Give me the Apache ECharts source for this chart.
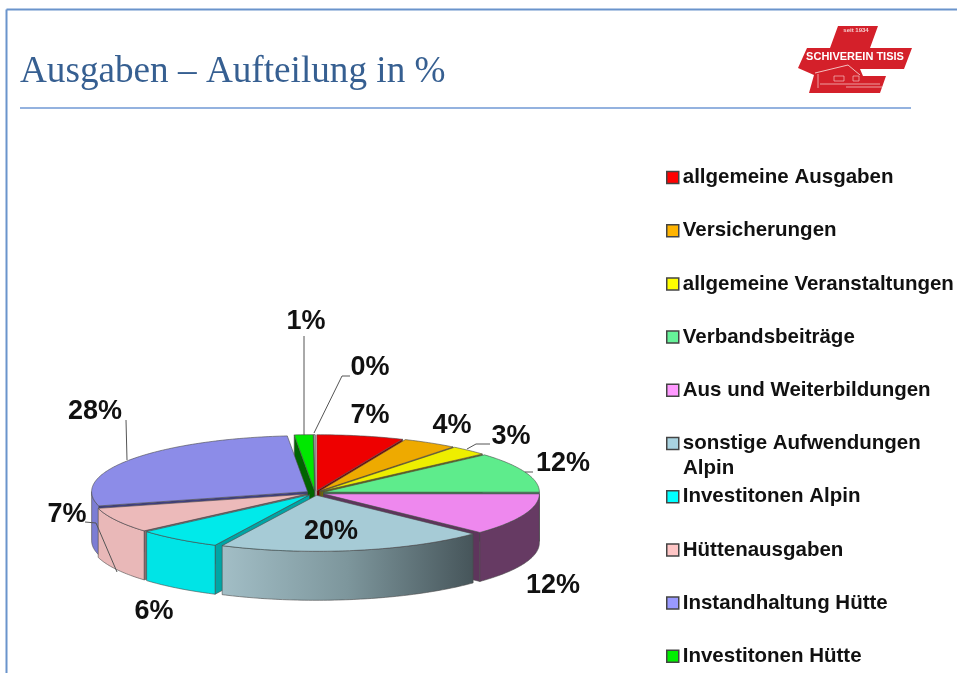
<!DOCTYPE html>
<html>
<head>
<meta charset="utf-8">
<style>html,body{margin:0;padding:0;background:#fff}#c{width:957px;height:673px}</style>
<script src="https://cdn.jsdelivr.net/npm/echarts@6/dist/echarts.min.js"></script>
</head>
<body>
<div id="c"></div>
<script>
// ---------- data ----------
const categories = ['allgemeine Ausgaben','Versicherungen','allgemeine Veranstaltungen','Verbandsbeiträge','Aus und Weiterbildungen','sonstige Aufwendungen Alpin','Investitonen Alpin','Hüttenausgaben','Instandhaltung Hütte','Investitonen Hütte','Sonstiges'];
const shares = [6.5,4.1,2.8,11.6,12.1,20.1,6.4,7.3,27.6,1.4,0.1];
const legendColors = ['#ff0000','#ffb400','#ffff00','#66f299','#ff99ff','#a9d3e0','#00ffff','#ffc6c6','#9999ff','#00ee00','#cccccc'];
const topColors = ['#ee0000','#eeaa00','#eeee00','#5eec8c','#ee88ee','#a6cbd6','#00eaea','#ecbaba','#8c8ce8','#00e800','#cccccc'];
const outerColors = ['#800000','#806000','#808000','#338050','#663a63','#7c969d','#00e4e6','#e9b8b8','#7c7dd4','#006800','#888888'];
const radialColors = ['#7a0000','#7a5a00','#6e6e00','#1d6e3a','#5e355c','#5d7279','#00a5a5','#8a6c6c','#3f3f80','#006400','#777777'];

// ---------- pie layout ----------
const CX = 315, CY = 493, RX = 216, RY = 56, DEPTH = 49, EXPLODE = 9;
const total = shares.reduce((a, b) => a + b, 0);
const starts = [];
shares.reduce((acc, v, i) => { starts[i] = acc; return acc + v; }, 0);
const rad = d => d * Math.PI / 180;
const angleOf = v => v / total * 360;

function makeSlice(i) {
  return function (params, api) {
    const v = api.value(0);
    const t1 = angleOf(starts[i]);
    const t2 = t1 + angleOf(v);
    const mid = (t1 + t2) / 2;
    const ax = CX + EXPLODE * Math.sin(rad(mid));
    const ay = CY - EXPLODE * (RY / RX) * Math.cos(rad(mid));
    const pt = (t, d) => [ax + RX * Math.sin(rad(t)), ay - RY * Math.cos(rad(t)) + (d || 0)];
    const arc = (a, b, d) => {
      const out = [], n = Math.max(2, Math.ceil(Math.abs(b - a)));
      for (let k = 0; k <= n; k++) out.push(pt(a + (b - a) * k / n, d));
      return out;
    };
    const stroke = { stroke: '#4a4a4a', lineWidth: 0.6 };
    const children = [];
    const quad = (t, color) => ({
      type: 'polygon',
      shape: { points: [[ax, ay], pt(t), pt(t, DEPTH), [ax, ay + DEPTH]] },
      style: Object.assign({ fill: color }, stroke)
    });
    // radial walls facing the viewer
    if (-Math.cos(rad(t1 - 90)) > 0) children.push(quad(t1, radialColors[i]));
    if (-Math.cos(rad(t2 + 90)) > 0) children.push(quad(t2, radialColors[i]));
    // outer rim wall (front half only)
    const a = Math.max(t1, 90), b = Math.min(t2, 270);
    if (b > a) {
      const fill = i === 5
        ? new echarts.graphic.LinearGradient(0, 0, 1, 0, [
            { offset: 0, color: '#a2bec6' },
            { offset: 0.5, color: '#7d969c' },
            { offset: 1, color: '#46555a' }
          ])
        : outerColors[i];
      children.push({
        type: 'polygon',
        shape: { points: arc(a, b, 0).concat(arc(b, a, DEPTH)) },
        style: Object.assign({ fill }, stroke)
      });
    }
    // top face
    children.push({
      type: 'polygon',
      shape: { points: [[ax, ay]].concat(arc(t1, t2, 0)) },
      style: Object.assign({ fill: topColors[i] }, stroke)
    });
    return { type: 'group', children };
  };
}

// back slices are painted first
const midCos = shares.map((v, i) => Math.cos(rad(angleOf(starts[i] + v / 2))));
const order = midCos.map((c, i) => [c, i]).sort((p, q) => q[0] - p[0]).map(p => p[1]);

const series = categories.map((name, i) => ({
  type: 'custom',
  name,
  coordinateSystem: 'none',
  z: 2 + order.indexOf(i),
  silent: true,
  animation: false,
  itemStyle: { color: legendColors[i] },
  data: [[shares[i]]],
  renderItem: makeSlice(i)
}));

// ---------- labels and leader lines (annotation layout, in slice order) ----------
const labelPos = [[370,416],[452,426],[511,437],[563,464],[553,586],[331,532],[154,612],[67,515],[95,412],[306,322],[370,368]];
const leaders = [
  [[490,444],[476,444],[467,449]],
  [[533,472],[525,472]],
  [[85,522],[96,523],[117,572]],
  [[126,420],[127,460]],
  [[304,336],[304,435]],
  [[350,376],[342,376],[314,433]]
];
series.push({
  type: 'custom',
  name: 'labels',
  coordinateSystem: 'none',
  z: 30,
  silent: true,
  animation: false,
  data: [[0]],
  renderItem: function () {
    const children = leaders.map(pts => ({
      type: 'polyline',
      shape: { points: pts },
      style: { stroke: '#555555', lineWidth: 1, fill: null }
    }));
    shares.forEach((v, i) => children.push({
      type: 'text',
      style: {
        x: labelPos[i][0], y: labelPos[i][1],
        text: Math.round(v) + '%',
        fill: '#111111',
        font: 'bold 27px "Liberation Sans", Arial, sans-serif',
        align: 'center', verticalAlign: 'middle'
      }
    }));
    return { type: 'group', children };
  }
});

const option = {
  backgroundColor: '#ffffff',
  animation: false,
  title: {
    text: 'Ausgaben – Aufteilung in %',
    left: 20, top: 54, padding: 0,
    textStyle: { fontFamily: '"Liberation Serif", serif', fontWeight: 'normal', fontSize: 37.2, color: '#365f91' }
  },
  legend: {
    orient: 'vertical',
    left: 666, top: 167,
    height: 506,
    data: categories.slice(0, 10),
    formatter: n => n === categories[5] ? 'sonstige Aufwendungen' : n,
    selectedMode: false,
    icon: 'rect',
    itemWidth: 12, itemHeight: 12,
    itemGap: 32.2,
    padding: 0,
    itemStyle: { borderColor: '#444444', borderWidth: 1.5 },
    textStyle: {
      fontFamily: '"Liberation Sans", Arial, sans-serif',
      fontWeight: 'bold', fontSize: 20.5, lineHeight: 21, color: '#111111',
      padding: [0, 0, 0, -1]
    }
  },
  graphic: [
    { type: 'line', shape: { x1: 6.5, y1: 9.5, x2: 957, y2: 9.5 }, style: { stroke: '#6a94cc', lineWidth: 2 } },
    { type: 'line', shape: { x1: 6.5, y1: 9.5, x2: 6.5, y2: 673 }, style: { stroke: '#6a94cc', lineWidth: 2 } },
    { type: 'line', shape: { x1: 20, y1: 108, x2: 911, y2: 108 }, style: { stroke: '#7099d5', lineWidth: 1.5 } },
    { type: 'text', style: { x: 683, y: 468, text: 'Alpin', fill: '#111111', font: 'bold 20.5px "Liberation Sans", Arial, sans-serif', verticalAlign: 'middle' } },
    // logo
    { type: 'polygon', shape: { points: [[838,26],[878,26],[870,48],[912,48],[904,69],[860,69],[863,76],[886,76],[880,93],[809,93],[814,75],[798,68],[807,48],[830,48]] }, style: { fill: '#d4202a' } },
    { type: 'text', style: { x: 855, y: 57, text: 'SCHIVEREIN TISIS', fill: '#ffffff', font: 'bold 11px "Liberation Sans", Arial, sans-serif', align: 'center', verticalAlign: 'middle' } },
    { type: 'text', style: { x: 856, y: 30.5, text: 'seit 1934', fill: '#f6d0d0', font: 'bold 6px "Liberation Sans", Arial, sans-serif', align: 'center', verticalAlign: 'middle' } },
    { type: 'polyline', shape: { points: [[815,73],[848,65],[860,75]] }, style: { stroke: '#f4c0c0', lineWidth: 1, fill: null } },
    { type: 'polyline', shape: { points: [[818,74],[818,88]] }, style: { stroke: '#f4c0c0', lineWidth: 0.8, fill: null } },
    { type: 'polyline', shape: { points: [[820,84],[880,84]] }, style: { stroke: '#f4c0c0', lineWidth: 0.8, fill: null } },
    { type: 'polyline', shape: { points: [[846,87],[882,87]] }, style: { stroke: '#f4c0c0', lineWidth: 0.8, fill: null } },
    { type: 'rect', shape: { x: 834, y: 76, width: 10, height: 5 }, style: { stroke: '#f4c0c0', lineWidth: 0.7, fill: null } },
    { type: 'rect', shape: { x: 853, y: 76, width: 6, height: 5 }, style: { stroke: '#f4c0c0', lineWidth: 0.7, fill: null } }
  ],
  series
};
echarts.init(document.getElementById('c'), null, { renderer: 'canvas' }).setOption(option);
</script>
</body>
</html>
